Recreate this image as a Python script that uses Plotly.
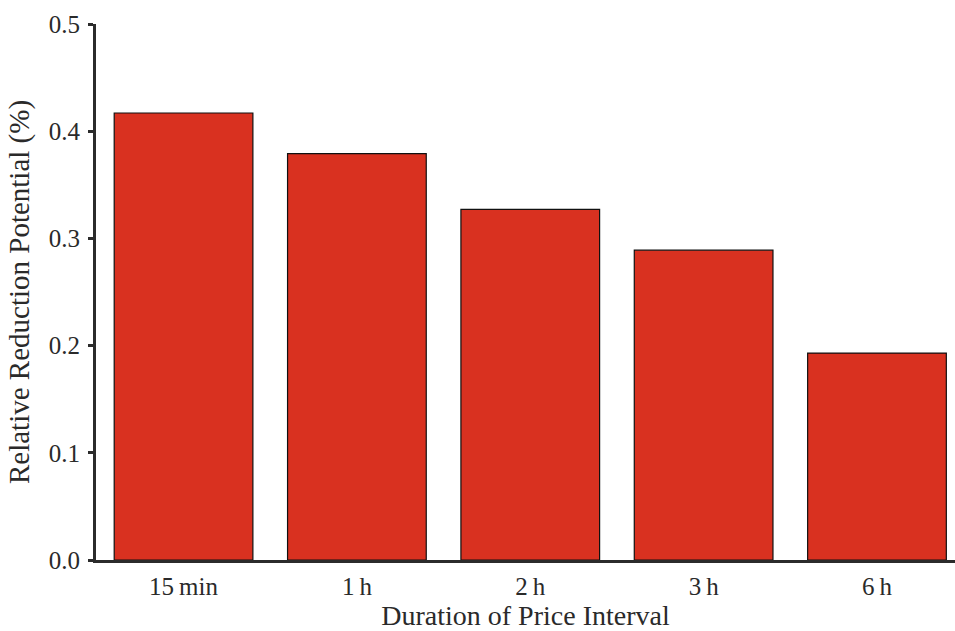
import plotly.graph_objects as go

# Relative reduction potential per price-interval duration
categories = ["15\u2009min", "1\u2009h", "2\u2009h", "3\u2009h", "6\u2009h"]
reduction = [0.417, 0.379, 0.327, 0.289, 0.193]
y_ticks = [0.0, 0.1, 0.2, 0.3, 0.4, 0.5]
y_tick_labels = ["0.0", "0.1", "0.2", "0.3", "0.4", "0.5"]

font_family = "Liberation Serif, DejaVu Serif, serif"
text_color = "#2a2a2a"
axis_color = "#2b2b2b"

fig = go.Figure(
    go.Bar(
        x=list(range(len(categories))),
        y=reduction,
        width=0.8,
        marker=dict(color="#D93120", line=dict(color="#111111", width=1.2)),
    )
)

fig.update_layout(
    width=955,
    height=631,
    margin=dict(l=96, r=0, t=24, b=71),
    plot_bgcolor="white",
    paper_bgcolor="white",
    showlegend=False,
    font=dict(family=font_family, size=25, color=text_color),
    xaxis=dict(
        tickmode="array",
        tickvals=list(range(len(categories))),
        ticktext=categories,
        range=[-0.505, 4.45],
        showline=True,
        linecolor=axis_color,
        linewidth=3,
        ticks="",
        showgrid=False,
        zeroline=False,
        tickfont=dict(size=25),
        ticklabelstandoff=2,
        title=dict(text="Duration of Price Interval", font=dict(size=28), standoff=9),
    ),
    yaxis=dict(
        tickmode="array",
        tickvals=y_ticks,
        ticktext=y_tick_labels,
        range=[0, 0.5],
        showline=True,
        linecolor=axis_color,
        linewidth=3,
        ticks="outside",
        ticklen=5,
        tickwidth=3,
        tickcolor=axis_color,
        showgrid=False,
        zeroline=False,
        tickfont=dict(size=25),
        ticklabelstandoff=3,
        title=dict(text="Relative Reduction Potential (%)", font=dict(size=29), standoff=11),
    ),
)

fig.write_html("out.html")
